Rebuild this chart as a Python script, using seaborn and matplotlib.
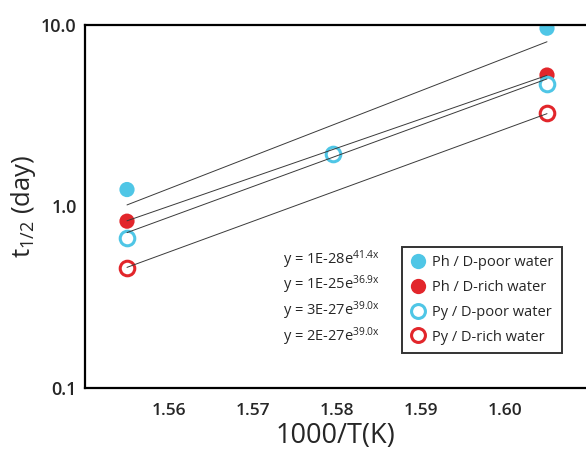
import numpy as np
import pandas as pd
import matplotlib
matplotlib.use("Agg")
import matplotlib.pyplot as plt
from matplotlib.lines import Line2D
import seaborn as sns

# ---- data ----
series = ["Ph / D-poor water", "Ph / D-rich water", "Py / D-poor water", "Py / D-rich water"]
x_Ph_poor = [1.555, 1.605]
y_Ph_poor = [1.24, 9.6]
x_Ph_rich = [1.555, 1.605]
y_Ph_rich = [0.83, 5.3]
x_Py_poor = [1.555, 1.5795, 1.605]
y_Py_poor = [0.67, 1.94, 4.72]
x_Py_rich = [1.555, 1.605]
y_Py_rich = [0.46, 3.26]

# exponential trend lines y = y0 * exp(rate * (x - x0))
fit_rate = [41.4, 36.9, 39.0, 39.0]
fit_start = [1.02, 0.834, 0.718, 0.462]   # value at fit_x[0]
fit_x = [1.555, 1.605]
equations = ["y = 1E-28e$^{41.4x}$", "y = 1E-25e$^{36.9x}$",
             "y = 3E-27e$^{39.0x}$", "y = 2E-27e$^{39.0x}$"]

x_ticks = [1.56, 1.57, 1.58, 1.59, 1.60]
x_tick_labels = ["1.56", "1.57", "1.58", "1.59", "1.60"]
y_ticks = [0.1, 1.0, 10.0]
y_tick_labels = ["0.1", "1.0", "10.0"]

# ---- style ----
sns.set_style("white")
plt.rcParams["font.family"] = ["Open Sans", "DejaVu Sans"]
plt.rcParams["mathtext.fontset"] = "custom"
plt.rcParams["mathtext.rm"] = "Open Sans"
plt.rcParams["mathtext.it"] = "Open Sans"
plt.rcParams["mathtext.bf"] = "Open Sans"

CYAN = "#4FC6E6"
RED = "#E2262B"

W, H = 586, 455
fig = plt.figure(figsize=(W / 100, H / 100), dpi=100)
L, R, T, B = 85, 586, 25, 388
ax = fig.add_axes([L / W, 1 - B / H, (R - L) / W, (B - T) / H])

pts = pd.DataFrame({
    "x": x_Ph_poor + x_Ph_rich + x_Py_poor + x_Py_rich,
    "y": y_Ph_poor + y_Ph_rich + y_Py_poor + y_Py_rich,
    "s": [series[0]] * len(x_Ph_poor) + [series[1]] * len(x_Ph_rich)
         + [series[2]] * len(x_Py_poor) + [series[3]] * len(x_Py_rich),
})

filled = pts[pts["s"].isin(series[:2])]
openp = pts[pts["s"].isin(series[2:])]
sns.scatterplot(data=filled, x="x", y="y", hue="s", hue_order=series[:2],
                palette=[CYAN, RED], s=120, linewidth=0, ax=ax, legend=False, zorder=2)
for name, col in zip(series[2:], [CYAN, RED]):
    d = openp[openp["s"] == name]
    ax.scatter(d["x"], d["y"], s=110, facecolors="white", edgecolors=col,
               linewidths=2.2, zorder=2)

# trend lines
rows = []
for name, r, y0 in zip(series, fit_rate, fit_start):
    for xv in fit_x:
        rows.append({"x": xv, "y": y0 * np.exp(r * (xv - fit_x[0])), "s": name})
fits = pd.DataFrame(rows)
sns.lineplot(data=fits, x="x", y="y", units="s", estimator=None, color="#3a3a3a",
             linewidth=0.7, ax=ax, legend=False, zorder=3)

ax.set_yscale("log")
ax.set_xlim(1.55, 1.55 + (R - L) / 8400)
ax.set_ylim(0.1, 10.0)
ax.set_xticks(x_ticks)
ax.set_xticklabels(x_tick_labels)
ax.set_yticks(y_ticks)
ax.set_yticklabels(y_tick_labels)
ax.minorticks_off()
ax.tick_params(axis="x", direction="in", length=6, width=1.2, color="black",
               labelsize=12.5, pad=11)
ax.tick_params(axis="y", direction="in", length=6, width=1.2, color="black",
               labelsize=13, pad=6)
for lab in ax.get_xticklabels() + ax.get_yticklabels():
    lab.set_fontweight("semibold")

for sp in ["left", "bottom", "top"]:
    ax.spines[sp].set_linewidth(1.6)
    ax.spines[sp].set_color("black")
ax.spines["right"].set_visible(False)

ax.set_xlabel("1000/T(K)", fontsize=19.5, labelpad=2)
ax.set_ylabel(r"t$_{1/2}$ (day)", fontsize=18.5, labelpad=2)

for i, eq in enumerate(equations):
    ax.text(0.395, [0.353, 0.284, 0.212, 0.140][i], eq, transform=ax.transAxes,
            fontsize=10.5, va="center", ha="left")

handles = [
    Line2D([], [], marker="o", linestyle="", markersize=11, markerfacecolor=CYAN, markeredgewidth=0),
    Line2D([], [], marker="o", linestyle="", markersize=11, markerfacecolor=RED, markeredgewidth=0),
    Line2D([], [], marker="o", linestyle="", markersize=10, markerfacecolor="white",
           markeredgecolor=CYAN, markeredgewidth=2.2),
    Line2D([], [], marker="o", linestyle="", markersize=10, markerfacecolor="white",
           markeredgecolor=RED, markeredgewidth=2.2),
]
leg = ax.legend(handles, series, loc="upper left", bbox_to_anchor=(0.632, 0.389),
                borderaxespad=0, frameon=True, fancybox=False, fontsize=10.5,
                handletextpad=0.35, handlelength=1.2, labelspacing=0.68,
                borderpad=0.55)
leg.get_frame().set_edgecolor("black")
leg.get_frame().set_linewidth(1.4)

fig.savefig("out.png", dpi=100)
